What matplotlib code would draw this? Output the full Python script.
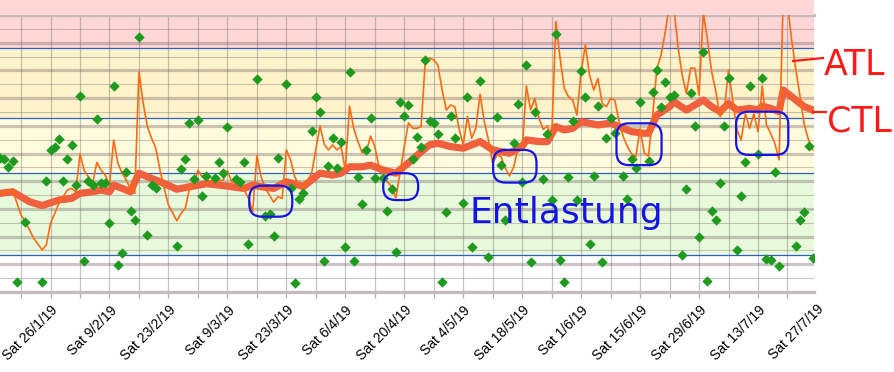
import matplotlib
matplotlib.use('Agg')
import matplotlib.pyplot as plt
from matplotlib.patches import FancyBboxPatch, Rectangle
from matplotlib.lines import Line2D

# days counted from Mon 14/1/19
daily_days = [0, 1, 2, 3, 4, 6, 10, 11, 12, 13, 14, 15, 16, 17, 18, 19, 20, 21, 22, 23,
              24, 25, 26, 27, 28, 29, 30, 31, 32, 33, 35, 36, 37, 42, 43, 44, 45, 46, 47, 48,
              49, 51, 52, 53, 54, 56, 57, 58, 59, 61, 63, 64, 65, 66, 68, 69, 70, 71, 72, 74,
              75, 76, 77, 78, 79, 80, 81, 82, 83, 84, 85, 86, 87, 88, 89, 91, 92, 93, 94, 95,
              96, 97, 98, 99, 100, 101, 102, 103, 104, 105, 106, 107, 108, 110, 111, 112, 114, 116, 118, 119,
              120, 122, 123, 124, 125, 126, 127, 129, 130, 131, 132, 133, 134, 135, 136, 137, 138, 139, 140, 141,
              142, 143, 144, 145, 146, 148, 149, 150, 151, 152, 154, 155, 156, 157, 158, 159, 160, 162, 163, 164,
              165, 166, 167, 168, 169, 170, 171, 172, 173, 175, 176, 177, 178, 180, 181, 182, 183, 184, 185, 189,
              190, 191, 192, 193]
daily_vals = [48.4, 48.0, 45.2, 47.3, 3.5, 25.2, 3.5, 40.1, 51.3, 52.5, 55.1, 40.1, 48.1, 53.1, 38.6, 70.6, 11.2, 40.1, 38.6, 62.5,
              39.5, 39.5, 24.8, 74.3, 9.6, 14.0, 43.4, 29.4, 26.0, 91.9, 20.6, 38.6, 37.7, 16.7, 44.4, 48.1, 60.9, 40.7, 62.1, 34.8,
              41.9, 41.0, 47.0, 42.9, 59.7, 40.7, 39.8, 47.0, 17.2, 76.8, 27.4, 28.2, 20.2, 48.5, 75.0, 37.4, 3.1, 33.6, 35.8, 58.2,
              70.4, 64.9, 11.2, 45.5, 55.7, 44.9, 54.3, 16.4, 79.4, 11.2, 41.4, 31.8, 51.3, 62.7, 41.0, 41.0, 29.4, 37.1, 14.5, 68.7,
              63.6, 67.5, 47.9, 56.1, 52.5, 83.8, 61.8, 60.9, 56.9, 3.7, 29.0, 63.5, 55.5, 32.0, 70.5, 16.1, 76.2, 12.7, 63.3, 45.8,
              26.0, 53.7, 67.8, 39.8, 81.9, 10.9, 65.1, 40.8, 56.9, 33.2, 93.0, 11.6, 3.7, 41.6, 61.8, 33.2, 79.9, 70.5, 17.2, 42.0,
              67.1, 10.9, 55.5, 62.7, 57.5, 41.9, 33.6, 47.9, 44.7, 68.7, 47.3, 72.3, 80.1, 66.9, 75.9, 70.5, 71.1, 13.4, 37.1, 71.9,
              60.0, 20.0, 86.8, 4.0, 29.4, 26.0, 39.2, 60.0, 77.4, 15.2, 34.8, 46.8, 74.4, 49.8, 77.4, 11.8, 11.6, 43.4, 9.4, 16.7,
              26.0, 29.0, 52.8, 12.4]

atl_days = [0, 3, 5, 6, 8, 10, 11, 12, 14, 16, 17, 18, 19, 20, 21, 22, 23, 24, 25, 26,
            27, 28, 29, 30, 31, 32, 33, 34, 35, 36, 37, 38, 39, 40, 42, 43, 44, 45, 46, 47,
            48, 49, 51, 53, 54, 55, 57, 58, 59, 60, 61, 62, 63, 64, 65, 66, 67, 68, 69, 70,
            71, 72, 74, 76, 77, 78, 79, 80, 81, 82, 83, 84, 85, 86, 87, 88, 89, 90, 91, 92,
            93, 94, 95, 96, 97, 98, 99, 100, 101, 102, 103, 104, 105, 106, 107, 108, 109, 110, 111, 112,
            113, 114, 115, 116, 117, 118, 119, 120, 121, 122, 123, 124, 125, 126, 127, 128, 129, 130, 131, 132,
            133, 134, 135, 136, 137, 138, 139, 140, 141, 142, 143, 144, 145, 146, 147, 148, 149, 150, 151, 152,
            153, 154, 155, 156, 157, 158, 159, 160, 161, 162, 163, 164, 165, 166, 167, 168, 169, 170, 171, 172,
            173, 174, 175, 176, 177, 178, 179, 180, 181, 182, 183, 184, 185, 186, 187, 188, 189, 190, 191, 192,
            193]
atl_vals = [35.8, 36.6, 27.8, 25.4, 19.4, 15.2, 17.0, 24.8, 32.0, 36.8, 37.4, 36.2, 49.8, 43.8, 41.6, 39.2, 46.8, 44.0, 42.2, 38.6,
            54.9, 46.5, 42.9, 40.4, 37.1, 35.6, 79.5, 68.1, 59.7, 55.5, 51.9, 44.0, 37.4, 31.4, 25.7, 28.4, 30.2, 37.4, 38.6, 44.0,
            41.6, 40.4, 39.8, 40.4, 43.8, 39.8, 38.6, 36.8, 33.8, 29.0, 49.1, 41.6, 37.4, 35.0, 32.4, 34.4, 33.8, 51.3, 47.7, 41.6,
            38.6, 37.4, 42.9, 59.9, 53.3, 51.3, 53.1, 51.3, 52.5, 44.0, 67.1, 59.1, 54.3, 50.3, 50.6, 56.3, 52.5, 45.2, 42.2, 39.8,
            38.0, 34.0, 42.9, 52.5, 61.1, 59.1, 59.1, 59.7, 83.8, 84.4, 83.8, 81.9, 72.9, 65.7, 67.5, 66.9, 59.1, 53.1, 63.3, 55.5,
            59.1, 71.4, 61.5, 54.9, 46.5, 49.5, 48.8, 44.7, 41.9, 45.2, 51.9, 51.3, 74.4, 65.7, 69.9, 62.7, 58.7, 59.9, 54.9, 97.6,
            84.4, 73.5, 70.5, 69.3, 63.9, 79.5, 89.2, 78.3, 72.9, 77.1, 68.1, 66.9, 69.9, 69.3, 61.5, 56.1, 52.5, 49.8, 48.8, 59.1,
            50.1, 49.1, 63.9, 80.8, 85.6, 94.0, 104.0, 103.0, 88.6, 78.3, 71.7, 80.8, 80.8, 71.1, 101.0, 91.0, 79.5, 72.3, 63.3, 65.7,
            80.1, 69.3, 58.5, 54.9, 64.3, 59.1, 64.3, 57.9, 74.4, 60.3, 57.3, 53.7, 47.7, 108.0, 104.0, 91.0, 80.1, 70.5, 60.3, 54.9,
            51.3]

ctl_days = [0, 3, 5, 7, 10, 14, 17, 19, 22, 24, 26, 27, 31, 33, 35, 38, 42, 45, 49, 52,
            55, 58, 60, 62, 65, 68, 71, 72, 76, 79, 81, 83, 86, 88, 91, 94, 97, 100, 102, 104,
            107, 110, 114, 117, 121, 124, 125, 128, 130, 132, 134, 136, 138, 140, 142, 145, 146, 148, 150, 153,
            154, 156, 159, 160, 163, 165, 167, 169, 171, 173, 175, 178, 180, 181, 183, 185, 186, 188, 191, 193]
ctl_vals = [35.6, 36.2, 34.4, 32.6, 31.2, 33.2, 33.8, 35.6, 36.2, 36.8, 36.2, 38.6, 36.2, 42.9, 41.6, 39.8, 37.1, 38.0, 39.1, 38.6,
            38.0, 37.4, 38.6, 38.0, 37.4, 39.8, 38.6, 38.0, 42.9, 42.2, 42.9, 45.2, 45.2, 45.8, 44.0, 42.9, 46.6, 50.6, 53.1, 53.7,
            52.5, 51.9, 54.3, 51.3, 50.1, 52.5, 54.9, 54.3, 54.3, 59.7, 58.5, 59.1, 61.5, 60.9, 60.3, 61.0, 60.3, 59.1, 57.9, 57.3,
            57.3, 63.9, 66.9, 68.7, 65.7, 67.5, 69.3, 66.9, 65.1, 68.1, 65.7, 66.3, 65.7, 67.1, 66.3, 65.1, 72.9, 70.5, 66.9, 65.7]

zone_bounds = [13.4, 42.9, 62.7, 88.0, 100.0]
zone_colors = ['#e9fadc', '#fffcde', '#fff3cc', '#ffd7d7']

week_days = list(range(5, 188, 7))
label_days = [12, 26, 40, 54, 68, 82, 96, 110, 124, 138, 152, 166, 180, 194]
label_text = ['Sat 26/1/19', 'Sat 9/2/19', 'Sat 23/2/19', 'Sat 9/3/19', 'Sat 23/3/19',
              'Sat 6/4/19', 'Sat 20/4/19', 'Sat 4/5/19', 'Sat 18/5/19', 'Sat 1/6/19',
              'Sat 15/6/19', 'Sat 29/6/19', 'Sat 13/7/19', 'Sat 27/7/19']

W, H = 895, 372
fig = plt.figure(figsize=(W / 100, H / 100), dpi=100)
ax = fig.add_axes([0, 80 / H, 814 / W, 277 / H])
x_max = 193.3
ax.set_xlim(0, x_max)
ax.set_ylim(0, 100)

# pink strip above the plot area
fig.patches.append(Rectangle((0, 357 / H), 814 / W, 15 / H, transform=fig.transFigure,
                             facecolor=zone_colors[-1], edgecolor='none', zorder=0))

# coloured zones
for lo, hi, c in zip(zone_bounds[:-1], zone_bounds[1:], zone_colors):
    ax.axhspan(lo, hi, color=c, zorder=0.1, lw=0)
for b in zone_bounds[:-1]:
    ax.axhline(b, color='#2f5fbf', lw=0.9, zorder=1.5)

# grid
ax.set_axisbelow(True)
ax.set_yticks(range(0, 101, 10))
ax.set_yticks(range(5, 100, 10), minor=True)
ax.yaxis.grid(True, which='major', color='#7a6a6a', alpha=0.38, lw=2.3)
ax.yaxis.grid(True, which='minor', color='#7a6a6a', alpha=0.38, lw=0.8)
ax.set_xticks(week_days, minor=True)
ax.set_xticks([d for d in label_days if d <= x_max])
ax.set_xticklabels([t for d, t in zip(label_days, label_text) if d <= x_max])
ax.set_xlim(0, x_max)
ax.xaxis.grid(True, which='both', color='#6f6f6f', alpha=0.4, lw=0.9)
ax.tick_params(axis='y', which='both', left=False, labelleft=False)
ax.tick_params(axis='x', which='both', length=4, color='#b0b0b0', width=0.9, pad=4)
for lab in ax.get_xticklabels():
    lab.set_rotation(45)
    lab.set_ha('right')
    lab.set_rotation_mode('anchor')
    lab.set_fontsize(10)
    lab.set_family('Liberation Sans')
for d, t in zip(label_days, label_text):
    if d > x_max:
        ax.annotate(t, xy=(d, 0), xycoords=('data', 'axes fraction'), xytext=(0, -7),
                    textcoords='offset points', rotation=45, ha='right', va='top',
                    rotation_mode='anchor', fontsize=10, family='Liberation Sans',
                    annotation_clip=False)

for s in ['left', 'right']:
    ax.spines[s].set_visible(False)
for s in ['top', 'bottom']:
    ax.spines[s].set_color('#c4bcbc')
    ax.spines[s].set_linewidth(2.3)

# series
ax.plot(ctl_days, ctl_vals, color='#f0603e', lw=5.2, solid_joinstyle='round', zorder=3)
ax.plot(atl_days, atl_vals, color='#ff6a10', lw=1.2, zorder=4)
ax.scatter(daily_days, daily_vals, marker='D', s=28, color='#1e9a1e', lw=0, zorder=5)

# hand-drawn notes
blue = '#1414e6'
for x0, x1, y0, y1 in [(59.2, 69.4, 27.2, 38.4), (91.0, 99.3, 33.2, 42.9),
                       (117.1, 127.4, 39.5, 51.3), (146.4, 157.1, 45.8, 60.9),
                       (174.8, 187.2, 49.5, 65.1)]:
    ax.add_patch(FancyBboxPatch((x0, y0), x1 - x0, y1 - y0,
                                boxstyle='round,pad=0,rounding_size=3',
                                mutation_aspect=1.52, fill=False, ec=blue, lw=1.6, zorder=6))
ax.text(111.5, 24.8, 'Entlastung', color=blue, fontsize=26, va='baseline', zorder=6)

red = '#ff1a1a'
fig.text(824 / W, 1 - 75 / H, 'ATL', color=red, fontsize=25, va='baseline')
fig.text(827 / W, 1 - 132 / H, 'CTL', color=red, fontsize=25, va='baseline')
fig.add_artist(Line2D([793 / W, 823 / W], [1 - 61 / H, 1 - 58 / H], color=red, lw=1.6))
fig.add_artist(Line2D([813 / W, 826 / W], [1 - 112 / H, 1 - 112 / H], color=red, lw=1.6))

fig.savefig('out.png', dpi=100)
